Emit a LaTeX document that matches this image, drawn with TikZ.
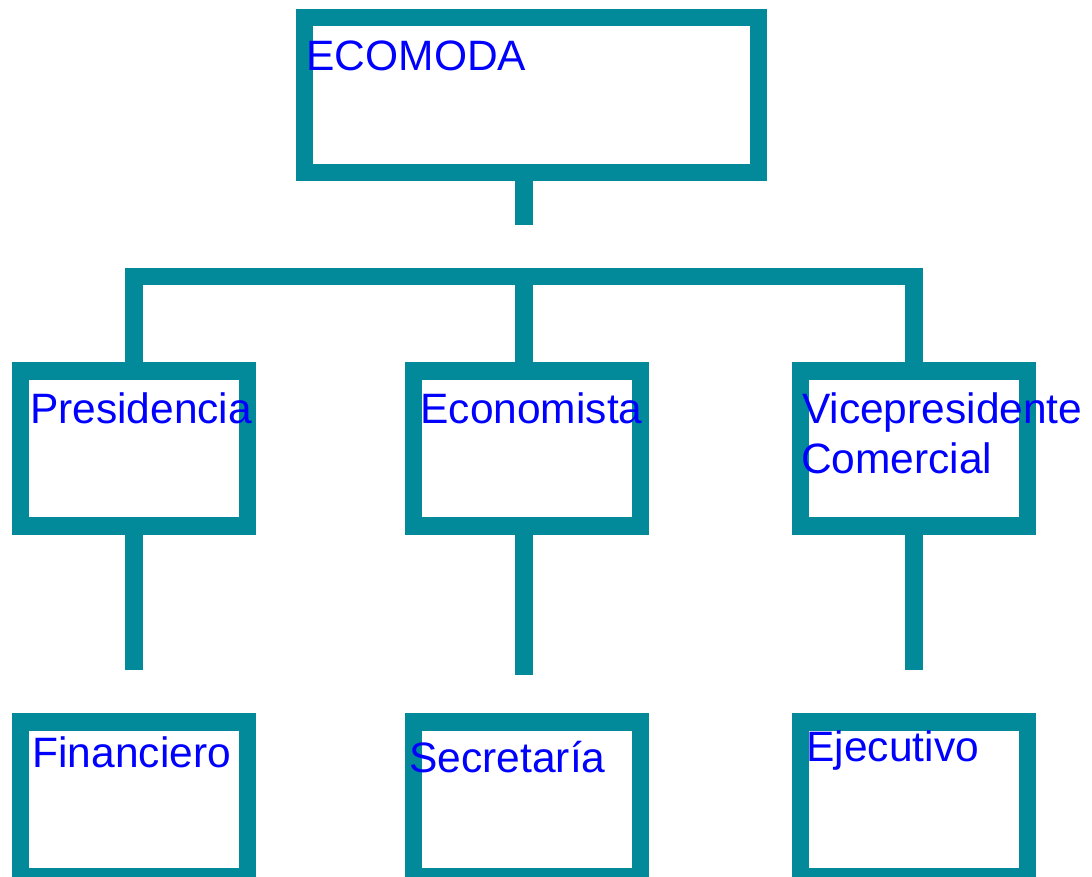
\documentclass[tikz,border=0pt]{standalone}
\usepackage{fontspec}
\setmainfont{Liberation Sans}
\definecolor{teal1}{RGB}{2,138,155}
\definecolor{txtblue}{RGB}{0,0,255}
\begin{document}
\begin{tikzpicture}[x=1pt,y=-1pt,
  orgbox/.style={draw=teal1,line width=17.5pt,rectangle,inner sep=0pt,outer sep=0pt,
    minimum width=227pt,minimum height=154.6pt,line join=miter},
  conn/.style={draw=teal1,line width=17.5pt,line cap=butt,line join=miter},
  lbl/.style={anchor=base west,inner sep=0pt,outer sep=0pt,text=txtblue,
    font=\fontsize{42.5}{50}\selectfont}]
\useasboundingbox (0,0) rectangle (1092,877);
\clip (0,0) rectangle (1092,877);
% boxes
\node[orgbox,minimum width=454.2pt] (top) at (531.4,95) {};
\node[orgbox] (pres) at (133.9,448.5) {};
\node[orgbox] (econ) at (527,448.5) {};
\node[orgbox] (vice) at (913.85,448.5) {};
\node[orgbox] (fin) at (133.9,799.4) {};
\node[orgbox] (sec) at (527,799.4) {};
\node[orgbox] (eje) at (913.85,799.4) {};
% free ends
\coordinate (s1) at (524,225.3);
\coordinate (bar) at (524,276.7);
\coordinate (d1) at (133.9,669.7);
\coordinate (d2) at (524,675.3);
\coordinate (d3) at (913.9,669.7);
% connectors
\draw[conn] (top.south -| s1) -- (s1);
\draw[conn] (pres.north) -- (pres.north |- bar) -- (vice.north |- bar) -- (vice.north);
\draw[conn] (bar) -- (econ.north -| bar);
\draw[conn] (pres.south) -- (d1);
\draw[conn] (econ.south -| d2) -- (d2);
\draw[conn] (vice.south) -- (vice.south |- d3);
% labels
\node[lbl] (tTop) at (306.5,71) {ECOMODA};
\node[lbl] (tPres) at (30,423.3) {Presidencia};
\node[lbl] (tEcon) at (420.5,423.3) {Economista};
\node[lbl] (tVice1) at (802,423.3) {Vicepresidente};
\node[lbl] (tVice2) at (801,473) {Comercial};
\node[lbl] (tFin) at (32.5,767.7) {Financiero};
\node[lbl] (tSec) at (409.5,772.7) {Secretaría};
\node[lbl] (tEje) at (806.5,761.7) {Ejecutivo};
\end{tikzpicture}
\end{document}
